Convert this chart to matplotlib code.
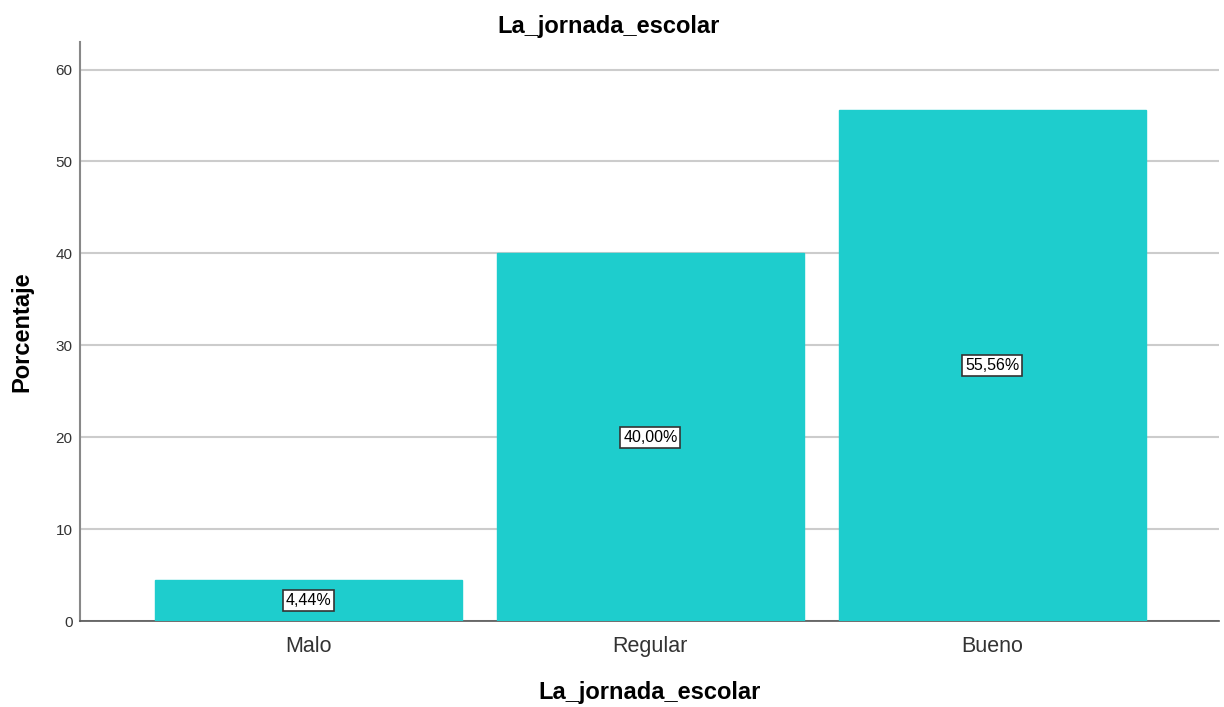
import matplotlib
matplotlib.use("Agg")
import matplotlib.pyplot as plt

categories = ["Malo", "Regular", "Bueno"]
values = [4.44, 40.00, 55.56]
labels = ["4,44%", "40,00%", "55,56%"]
yticks = [0, 10, 20, 30, 40, 50, 60]

plt.rcParams['font.family'] = ['Liberation Sans', 'DejaVu Sans']

fig = plt.figure(figsize=(12.24, 7.07), dpi=100)
ax = fig.add_axes([0.0654, 0.1216, 0.9306, 0.819])

x = list(range(len(categories)))
bars = ax.bar(x, values, width=0.896, color="#1ECDCD", edgecolor="#1ECDCD", zorder=3)

for xi, v, lab in zip(x, values, labels):
    ax.text(xi, v / 2, lab, ha="center", va="center", fontsize=11.5, color="black", zorder=4,
            bbox=dict(boxstyle="square,pad=0.18", facecolor="white", edgecolor="#333333", linewidth=1.2))

ax.set_xlim(-0.668, 2.663)
ax.set_ylim(0, 63)
ax.set_yticks(yticks)
ax.set_yticklabels([str(t) for t in yticks], fontsize=11, color="#333333")
ax.set_xticks(x)
ax.set_xticklabels(categories, fontsize=15.5, color="#333333")
ax.tick_params(axis="x", length=0, pad=11)
ax.tick_params(axis="y", length=0, pad=5.5)

ax.yaxis.grid(True, color="#cccccc", linewidth=1.5, zorder=0)
ax.set_axisbelow(True)

for s in ["top", "right"]:
    ax.spines[s].set_visible(False)
ax.spines["left"].set_color("#888888")
ax.spines["left"].set_linewidth(1.5)
ax.spines["bottom"].set_color("#555555")
ax.spines["bottom"].set_linewidth(1.2)

fig.text(0.497, 0.962, "La_jornada_escolar", ha="center", va="center", fontsize=17, fontweight="bold")
ax.set_xlabel("La_jornada_escolar", fontsize=17, fontweight="bold", labelpad=17)
ax.set_ylabel("Porcentaje", fontsize=17, fontweight="bold", labelpad=16)

fig.savefig("out.png", dpi=100)
